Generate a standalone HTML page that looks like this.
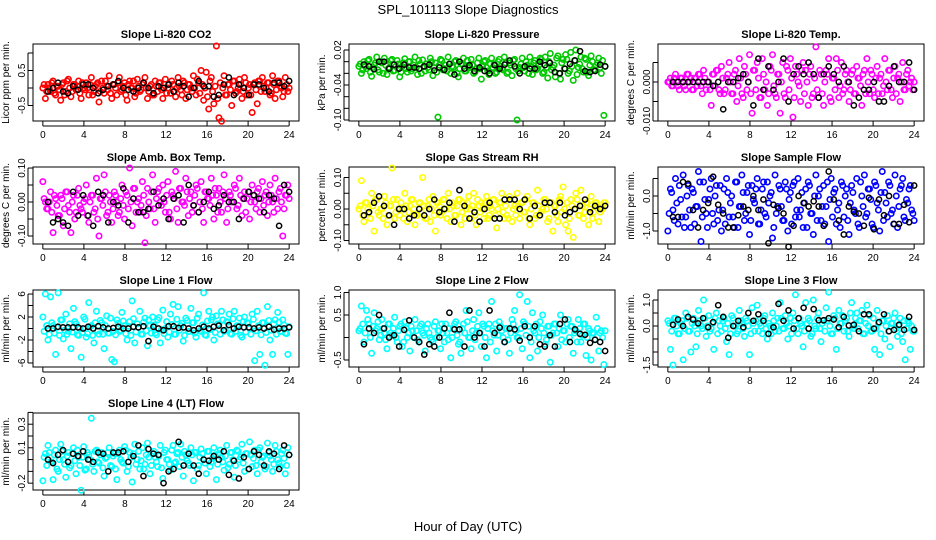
<!DOCTYPE html>
<html><head><meta charset="utf-8"><style>
html,body{margin:0;padding:0;background:#fff}
svg{display:block;font-family:"Liberation Sans",Arial,sans-serif}
</style></head><body>
<svg id="chart" width="936" height="540" viewBox="0 0 936 540">
<text x="468" y="14" text-anchor="middle" font-size="13">SPL_101113  Slope Diagnostics</text>
<text x="468" y="531" text-anchor="middle" font-size="13">Hour of Day (UTC)</text>
</svg>
<script>
const xTicks=[0,4,8,12,16,20,24];
const co2=[0.0,-0.3,0.1,-0.1,0.2,-0.2,0.05,-0.35,0.15,-0.1,0.25,-0.25,0.1,-0.05,0.2,-0.3,0.0,0.15,-0.2,0.3,-0.1,0.1,-0.4,0.2,-0.15,0.05,0.35,-0.3,0.1,-0.2,0.3,-0.05,0.15,-0.35,0.2,0.0,-0.25,0.25,-0.1,0.1,0.3,-0.3,0.05,-0.2,0.2,-0.1,0.15,-0.3,0.25,0.0,-0.15,0.1,-0.25,0.3,-0.05,0.2,-0.3,0.1,0.0,0.35,-0.2,0.15,0.5,-0.35,0.45,-0.6,0.3,-0.45,1.2,-0.85,-0.95,0.35,-0.2,0.1,-0.5,0.2,-0.1,0.25,-0.3,0.3,-0.2,0.1,-0.7,0.15,-0.45,0.2,0.3,-0.1,0.15,-0.2,0.35,-0.3,0.2,0.05,-0.25,0.3,-0.1];
const co2Core=[0.1,-0.1,0.0,0.15,-0.15,0.05,-0.05,0.1,-0.2,0.2,0.0,-0.1,0.1,0.05,-0.15,0.15,-0.05,0.0,0.1,-0.2,0.05,0.15,-0.1,0.0,0.2,-0.05,-0.15,0.1,0.0,0.15,-0.1,0.05,-0.2,0.1,0.0,0.2,-0.15,0.05,-0.05,0.15,0.0,-0.1,0.1,-0.2,0.05,0.15,-0.05,0.0,-0.15,0.1,0.2,-0.1,0.0,0.05,-0.2,0.15,-0.05,0.1,-0.1,0.0,0.25,-0.15,0.1,0.0,-0.25,0.2,-0.1,0.05,-0.3,0.15,0.0,-0.2,0.1,-0.05,0.2,-0.15,0.0,0.1,-0.1,0.15,0.0,-0.2,0.1,-0.05,0.2,-0.1,0.05,0.0,0.15,-0.15,0.1,-0.05,0.2,0.0,-0.1,0.1,0.0];
const co2Blk=[-0.1,0.0,0.15,-0.1,-0.15,0.05,-0.05,0.1,0.1,0.0,-0.15,-0.05,0.05,0.1,0.2,0.0,-0.05,-0.1,0.0,0.15,0.0,-0.15,0.05,0.0,0.1,-0.1,0.15,0.05,-0.25,0.0,0.2,0.05,0.05,-0.25,-0.2,0.1,0.3,-0.2,0.1,0.0,-0.2,0.1,0.1,0.0,-0.1,0.15,0.15,0.05,0.2];
const pres=[-0.008,-0.02,0.0,-0.012,0.004,-0.025,-0.006,0.008,-0.018,-0.002,0.006,-0.022,-0.01,0.004,-0.015,0.002,-0.026,-0.008,0.005,-0.018,0.0,-0.012,0.008,-0.022,-0.004,0.003,-0.016,-0.01,0.006,-0.024,-0.002,-0.095,0.004,-0.014,-0.006,0.008,-0.02,-0.01,0.002,-0.026,-0.004,0.006,-0.016,-0.008,0.004,-0.02,-0.012,0.006,-0.03,0.0,-0.01,-0.022,0.006,-0.004,-0.018,0.004,-0.012,0.008,-0.02,-0.002,-0.024,0.004,-0.1,-0.01,0.006,-0.016,-0.006,0.008,-0.022,0.002,-0.012,0.006,-0.02,0.008,-0.028,0.014,-0.01,-0.026,0.01,-0.03,0.004,0.012,-0.02,0.016,-0.032,0.02,-0.01,0.008,-0.018,0.004,-0.024,0.01,-0.014,-0.006,0.006,-0.02,-0.092];
const presCore=[-0.004,-0.014,-0.008,0.002,-0.018,-0.01,-0.002,-0.014,0.0,-0.02,-0.006,-0.012,0.002,-0.016,-0.008,-0.004,-0.018,-0.002,-0.012,0.0,-0.016,-0.006,-0.01,0.002,-0.02,-0.008,-0.004,-0.014,0.0,-0.01,-0.018,-0.006,0.002,-0.012,-0.016,-0.004,-0.008,0.0,-0.02,-0.012,-0.004,-0.016,0.002,-0.01,-0.006,-0.018,-0.002,-0.012,-0.008,0.002,-0.016,-0.004,-0.01,-0.02,0.0,-0.008,-0.014,-0.002,-0.018,-0.006,0.002,-0.012,-0.016,-0.004,-0.01,0.0,-0.02,-0.008,-0.002,-0.014,-0.006,0.004,-0.018,-0.01,0.0,-0.014,-0.006,0.006,-0.02,-0.002,-0.012,0.004,-0.016,-0.008,0.002,-0.022,-0.004,-0.012,0.006,-0.018,-0.006,0.0,-0.014,-0.002,-0.01,0.002,-0.008];
const presBlk=[-0.005,-0.008,-0.013,0.0,0.0,-0.012,-0.005,-0.012,-0.005,-0.01,-0.01,-0.012,-0.008,-0.005,-0.015,-0.01,-0.014,-0.004,-0.022,0.0,-0.012,-0.006,-0.016,-0.01,-0.016,-0.02,-0.006,-0.012,-0.005,0.002,-0.008,-0.02,-0.008,-0.012,-0.012,0.0,-0.006,-0.002,-0.018,-0.02,-0.012,-0.004,0.002,0.018,-0.016,-0.018,-0.016,-0.005,-0.008];
const ltemp=[0.0,0.001,-0.001,0.002,-0.001,0.001,0.0,-0.002,0.002,0.001,-0.002,0.001,0.002,-0.001,0.003,-0.002,0.0,-0.006,0.002,0.003,-0.002,0.004,-0.003,0.001,0.005,-0.003,0.002,-0.005,0.006,-0.003,0.004,-0.002,0.007,-0.008,0.003,0.005,-0.004,0.006,-0.002,-0.006,0.004,0.007,-0.003,0.002,-0.008,0.005,-0.004,0.003,0.006,-0.009,0.004,0.0,-0.005,0.005,0.003,-0.006,0.004,-0.003,0.009,-0.004,0.002,-0.006,0.003,0.006,-0.005,0.001,0.006,-0.004,0.005,-0.002,0.003,-0.005,0.002,-0.003,0.004,0.001,-0.006,0.003,0.006,-0.003,0.002,-0.004,0.004,0.001,-0.003,0.006,-0.002,0.003,-0.004,0.004,0.001,-0.005,0.005,-0.002,0.003,0.0,-0.002];
const ltempCore=[0.0,-0.001,0.001,0.0,-0.002,0.001,-0.001,0.002,0.0,-0.002,0.001,-0.001,0.002,-0.003,0.001,0.0,-0.002,0.002,-0.001,0.003,-0.003,0.001,-0.002,0.002,0.0,-0.003,0.003,-0.001,0.001,-0.004,0.002,0.0,-0.003,0.003,-0.002,0.001,-0.004,0.002,0.0,-0.003,0.003,-0.001,-0.004,0.002,0.0,-0.003,0.004,-0.002,0.001,-0.004,0.002,-0.001,0.003,-0.003,0.0,0.002,-0.004,0.001,-0.002,0.003,-0.003,0.0,0.002,-0.004,0.001,-0.002,0.003,-0.001,-0.003,0.002,0.0,-0.002,0.003,-0.003,0.001,-0.001,0.002,-0.003,0.0,0.003,-0.002,0.001,-0.003,0.002,-0.001,0.0,0.003,-0.002,0.001,-0.003,0.002,0.0,-0.002,0.002,-0.001,0.001,0.0];
const ltempBlk=[0.0,0.0,0.0,0.0,0.0,0.0,0.0,0.0,-0.001,0.0,-0.007,0.0,0.0,0.001,0.002,0.0,-0.006,0.006,-0.002,0.004,-0.002,0.0,0.006,-0.005,0.002,0.004,0.002,0.005,0.002,-0.004,0.002,0.004,0.002,0.0,0.004,0.0,-0.006,-0.004,-0.002,-0.002,0.0,-0.005,-0.005,-0.001,0.004,0.0,0.0,0.005,-0.002];
const abt=[0.06,0.0,-0.02,0.03,-0.09,0.01,-0.04,0.02,-0.07,0.03,-0.01,-0.09,0.02,-0.03,0.04,-0.02,0.0,0.05,-0.06,0.02,-0.03,0.07,-0.1,0.01,0.08,-0.04,0.02,-0.06,0.03,0.0,-0.03,0.05,-0.05,0.02,0.1,-0.07,0.04,0.0,-0.03,0.06,-0.12,0.04,-0.02,0.08,-0.06,0.03,0.0,0.05,-0.03,0.06,-0.05,0.02,0.09,-0.06,0.04,0.0,0.07,-0.04,0.03,-0.01,0.05,-0.03,0.06,-0.06,0.03,0.01,0.07,-0.05,0.02,0.04,-0.03,0.08,-0.06,0.03,0.0,0.05,-0.02,0.07,-0.04,0.03,0.01,-0.05,0.05,0.0,0.03,-0.03,0.06,0.02,-0.04,0.05,0.0,0.07,-0.02,0.04,-0.1,0.02,0.05];
const abtCore=[0.01,-0.02,0.0,-0.03,0.02,-0.01,-0.04,0.01,-0.02,0.03,-0.03,0.0,-0.05,0.02,-0.01,-0.03,0.01,-0.04,0.0,0.02,-0.02,-0.05,0.01,-0.01,0.03,-0.03,0.0,-0.02,0.02,-0.04,0.01,-0.01,0.03,-0.02,0.0,0.04,-0.03,0.01,-0.01,0.02,-0.04,0.0,0.03,-0.02,0.01,0.04,-0.01,0.0,0.02,-0.03,0.03,0.01,-0.02,0.04,0.0,-0.01,0.03,0.01,-0.03,0.02,0.04,0.0,-0.02,0.03,0.01,-0.01,0.02,0.04,-0.03,0.0,0.03,0.01,-0.02,0.02,0.0,0.04,-0.01,0.02,0.01,-0.03,0.03,0.0,0.02,-0.02,0.04,0.01,-0.01,0.03,0.0,0.02,-0.03,0.01,0.03,0.0,-0.02,0.02,0.01];
const abtBlk=[0.0,-0.06,-0.05,-0.06,-0.07,0.03,-0.04,0.02,-0.04,-0.07,0.03,0.02,-0.06,0.0,-0.01,0.04,-0.06,0.01,-0.03,-0.03,-0.02,0.03,-0.01,0.01,-0.05,0.01,0.02,-0.06,0.05,-0.01,-0.03,0.0,0.03,-0.02,-0.01,0.02,0.0,0.0,-0.05,0.01,0.03,0.02,0.01,-0.03,0.02,0.01,-0.07,0.05,0.03];
const rh=[0.0,0.09,-0.04,0.02,-0.01,0.05,-0.07,0.03,-0.02,0.0,0.04,-0.05,0.01,0.13,-0.03,0.03,-0.02,0.0,0.05,-0.04,0.01,0.03,-0.05,-0.02,0.02,0.1,-0.03,0.01,-0.04,0.04,-0.07,0.02,-0.02,0.03,0.0,0.05,-0.04,0.01,-0.02,0.03,-0.05,0.02,0.0,0.04,-0.03,0.05,-0.05,0.01,0.02,-0.03,0.04,-0.02,0.0,0.03,-0.06,0.02,0.05,-0.03,-0.02,0.04,-0.04,0.01,0.05,-0.03,0.02,-0.01,0.04,-0.05,0.02,-0.03,0.06,-0.02,0.0,0.03,-0.04,0.02,-0.07,0.01,-0.04,0.04,0.07,-0.05,-0.07,0.03,-0.09,0.05,-0.02,0.06,-0.03,0.02,-0.05,0.04,-0.01,0.02,-0.04,0.0,0.02];
const rhCore=[0.01,-0.02,0.02,0.0,-0.03,0.01,0.03,-0.01,0.0,-0.03,0.02,-0.02,0.01,0.03,-0.01,0.0,0.02,-0.03,0.01,-0.01,0.03,0.0,-0.02,0.02,-0.01,0.01,-0.03,0.03,0.0,-0.02,0.02,0.01,-0.01,0.03,-0.03,0.0,0.02,-0.02,0.01,0.03,-0.01,-0.03,0.02,0.0,0.01,-0.02,0.03,-0.01,0.0,0.02,-0.03,0.01,0.03,-0.02,0.0,0.02,-0.01,0.01,-0.03,0.03,0.0,-0.02,0.01,0.02,-0.01,0.03,-0.03,0.0,0.02,-0.02,0.01,-0.01,0.03,0.0,-0.03,0.02,0.01,-0.02,0.03,-0.01,0.0,0.02,-0.03,0.01,0.0,0.03,-0.02,0.01,-0.01,0.02,0.0,-0.03,0.02,0.01,-0.01,0.0,0.02];
const rhBlk=[-0.02,-0.01,0.02,0.04,0.01,-0.02,-0.05,0.0,0.0,-0.03,-0.02,0.0,-0.02,0.0,0.03,-0.01,0.0,0.02,-0.04,0.06,0.01,-0.03,-0.01,-0.04,0.0,0.02,-0.03,-0.03,0.03,0.03,0.03,0.0,0.03,-0.03,0.01,-0.02,0.02,0.02,-0.01,0.02,-0.02,-0.01,0.0,0.01,0.03,-0.01,0.01,0.0,0.01];
const samp=[-1.0,0.2,-0.4,0.5,-0.8,-0.1,0.6,-0.6,0.3,-0.9,0.1,-0.3,0.7,-1.3,0.4,-0.5,-0.1,0.5,-0.8,0.3,-0.4,-1.0,0.2,0.5,-0.6,0.0,-0.9,0.4,-0.3,0.6,-0.7,0.1,-1.1,0.3,-0.2,0.5,-0.8,0.2,-0.5,0.4,0.0,-1.2,0.6,-0.3,0.2,-0.7,0.4,-1.0,0.1,0.3,-0.6,0.5,-0.4,-0.9,0.2,0.4,-0.5,-1.1,0.6,0.0,-0.7,0.3,-0.3,-1.3,0.5,0.1,-0.8,-0.2,0.4,-0.6,0.2,-1.1,0.3,-0.4,0.5,-0.9,0.0,0.6,-0.5,0.2,-0.8,0.4,-0.2,-1.0,0.7,0.1,-0.6,0.3,-0.4,0.6,-0.9,0.2,0.5,-0.7,-0.2,0.3,-0.5];
const sampCore=[-0.5,0.1,-0.7,-0.2,0.3,-0.6,-0.9,0.0,-0.4,0.2,-0.8,-0.3,0.4,-0.6,-0.1,-0.9,0.2,-0.5,0.0,-0.7,0.3,-0.4,-0.8,0.1,-0.2,-0.6,0.4,-0.9,-0.3,0.1,-0.5,0.3,-0.7,-0.1,0.2,-0.8,-0.4,0.4,-0.6,-0.2,0.1,-0.9,-0.5,0.3,-0.3,-0.7,0.2,-0.1,-0.8,0.4,-0.4,-0.6,0.1,-0.2,-0.9,0.3,-0.5,0.0,-0.7,0.2,-0.3,-0.8,0.4,-0.1,-0.6,0.2,-0.4,-0.9,0.3,0.0,-0.7,-0.2,0.1,-0.5,-0.8,0.4,-0.3,-0.6,0.2,-0.1,-0.9,0.3,-0.4,0.1,-0.7,-0.2,0.4,-0.5,-0.8,0.0,-0.3,0.3,-0.6,-0.1,0.2,-0.4,-0.7];
const sampBlk=[-0.6,-0.6,0.4,0.35,-0.4,-0.9,-0.4,-0.2,0.55,-0.25,-0.5,-0.9,-0.9,-0.55,-0.3,-0.4,0.0,-0.4,-0.1,-1.35,-0.25,-0.35,-0.5,-1.45,-0.85,0.0,-0.2,-0.3,-0.15,-0.3,-0.85,0.7,-0.1,-0.7,-1.1,-0.3,-0.45,-0.5,-0.85,-0.05,-0.95,-0.1,-0.55,0.0,-0.8,-0.8,-0.25,-0.75,0.3];
const line1=[2.0,6.0,-2.0,5.5,0.5,-4.5,6.2,1.5,-1.8,2.5,-0.5,-3.5,3.5,0.8,-1.2,-5.0,2.0,-1.5,4.5,0.5,-2.5,3.0,-1.0,1.0,-3.5,2.2,-0.8,-5.4,-5.8,1.5,-0.5,2.8,0.5,-2.0,1.2,4.8,-2.5,0.8,3.0,-1.0,1.8,-3.0,0.5,2.0,-0.8,1.5,-2.5,3.2,0.0,-1.5,2.5,4.2,-1.0,3.8,0.5,-2.2,1.8,-0.5,3.5,1.0,-1.5,2.5,-0.5,6.2,-1.2,3.0,1.5,-2.0,2.2,0.8,3.0,-0.5,1.2,2.5,-1.0,3.0,0.5,1.8,-1.5,2.0,1.0,0.0,2.5,-5.6,3.0,-4.5,1.0,-6.4,3.8,-2.0,-4.5,1.5,2.8,-0.5,1.5,-0.8,-4.5];
const line1Core=[-0.5,0.5,-1.0,1.0,-0.8,0.2,-1.2,1.5,-0.3,-1.0,0.8,-0.6,1.2,-1.1,0.0,-0.7,1.6,-0.9,0.3,-1.2,1.0,-0.4,1.4,-1.0,0.5,-0.8,1.8,-0.5,-1.1,0.9,-0.3,1.3,-0.9,0.4,-1.2,1.7,-0.6,0.2,-1.0,1.1,-0.4,1.5,-0.8,0.6,-1.1,1.9,-0.2,-0.9,1.2,-0.6,0.7,-1.0,1.6,-0.3,0.9,-1.2,1.4,-0.5,1.0,-0.8,1.8,-0.4,0.6,-1.1,1.3,-0.2,2.0,-0.7,0.8,-1.0,1.5,-0.3,1.1,-0.9,1.7,-0.5,0.4,-1.2,1.2,-0.6,0.9,-1.0,1.6,-0.4,0.5,-1.1,1.0,-0.7,1.4,-0.3,0.8,-1.0,1.1,-0.5,0.6,-0.9,0.3];
const line1Blk=[0.0,0.0,0.3,0.2,0.2,0.2,0.2,0.0,0.3,0.0,0.4,0.2,0.0,0.1,0.3,0.0,0.0,0.3,0.2,0.4,-2.2,0.3,0.0,-0.3,0.4,0.4,0.1,0.2,0.0,-0.3,0.0,0.3,0.0,0.3,0.5,-0.3,0.6,0.0,0.3,0.2,0.2,0.0,0.2,0.0,0.3,-0.2,0.0,0.0,0.2];
const line2=[0.15,0.7,-0.1,0.6,0.3,-0.35,0.55,0.2,-0.05,0.4,0.1,-0.25,0.3,0.05,0.45,-0.1,0.25,-0.2,0.35,0.0,-0.3,0.15,0.4,-0.05,0.25,0.1,-0.3,0.3,0.0,-0.1,0.35,0.15,-0.25,0.1,0.3,-0.05,-0.45,0.2,0.35,-0.15,-0.35,0.3,0.6,0.0,-0.25,0.4,0.1,0.55,-0.2,0.25,-0.45,0.3,0.8,0.05,-0.3,0.35,0.15,-0.1,0.2,-0.35,0.4,0.6,0.0,0.95,-0.25,0.3,0.8,-0.45,0.55,0.1,-0.3,0.35,0.5,-0.15,0.25,-0.55,0.1,0.3,-0.2,0.5,0.15,-0.1,0.4,0.25,-0.35,0.15,0.4,-0.1,0.3,-0.4,0.2,-0.5,0.1,0.45,-0.3,0.15,-0.6];
const line2Core=[0.2,0.3,0.1,0.4,0.0,0.25,0.15,0.35,0.05,0.2,-0.05,0.3,0.1,0.2,0.0,0.15,0.3,-0.1,0.2,0.1,0.25,0.0,0.15,-0.1,0.3,0.05,0.2,0.1,-0.05,0.25,0.0,0.15,0.3,-0.1,0.1,0.2,0.0,0.3,0.05,-0.1,0.2,0.1,0.35,0.0,0.15,-0.05,0.25,0.1,0.3,0.0,0.2,-0.1,0.15,0.3,0.05,0.25,0.0,0.2,-0.05,0.1,0.3,0.15,0.0,0.2,0.35,0.05,0.25,-0.1,0.15,0.3,0.0,0.2,0.1,-0.05,0.25,0.05,0.3,0.1,0.2,-0.05,0.15,0.3,0.0,0.25,0.1,-0.1,0.2,0.05,0.3,0.0,0.15,0.1,-0.05,0.2,0.1,0.0,0.15];
const line2Blk=[-0.15,0.2,0.1,0.5,0.2,0.0,0.05,-0.2,0.17,0.38,0.0,-0.1,-0.38,-0.15,-0.2,0.0,0.2,0.55,0.18,0.18,-0.2,0.6,0.0,0.1,-0.2,0.6,0.1,0.22,-0.1,0.2,0.18,-0.07,0.25,0.0,0.25,-0.15,-0.2,0.05,-0.2,0.3,0.4,-0.1,0.18,0.08,0.06,-0.12,-0.05,-0.1,-0.3];
const line3=[0.2,-0.9,-1.5,0.3,-0.3,0.1,-1.3,0.5,-0.2,-1.0,0.3,-0.8,0.6,0.0,1.0,-0.4,0.4,-0.1,-0.9,0.5,0.2,-0.2,0.3,-0.6,-1.1,0.4,0.0,-0.3,0.6,0.1,-0.4,0.2,-1.1,0.7,-0.2,0.8,0.1,-0.3,0.4,-0.5,0.0,0.5,-0.2,0.3,0.9,-0.1,0.4,-0.5,0.3,0.5,1.2,-0.3,0.1,-0.8,0.9,0.3,-0.4,1.0,-0.1,0.5,-0.6,0.2,0.7,1.3,-0.3,0.4,-0.9,0.6,0.1,-0.2,0.3,-0.4,0.9,-0.1,0.5,0.2,0.6,-0.3,0.8,0.4,-0.2,-0.9,0.6,-1.1,0.2,-0.5,0.4,-0.8,0.1,0.5,-0.4,0.3,-0.6,-1.3,0.2,-0.9,-0.2];
const line3Core=[0.1,-0.2,0.3,0.0,-0.3,0.2,-0.1,0.3,-0.2,0.1,0.0,-0.3,0.2,-0.1,0.3,0.0,-0.2,0.1,0.3,-0.3,0.0,0.2,-0.1,0.1,-0.3,0.3,0.0,-0.2,0.2,-0.1,0.3,0.0,-0.3,0.1,0.2,-0.2,0.0,0.3,-0.1,0.1,-0.3,0.2,0.0,-0.2,0.3,-0.1,0.1,0.0,-0.3,0.2,-0.1,0.3,0.0,-0.2,0.1,0.2,-0.3,0.0,0.3,-0.1,0.1,-0.2,0.2,0.0,-0.3,0.3,-0.1,0.1,0.4,0.2,-0.2,0.5,0.0,0.3,-0.1,0.2,-0.3,0.1,0.0,-0.2,0.3,-0.1,0.1,-0.3,0.2,0.0,-0.2,0.1,0.3,-0.1,0.0,-0.3,0.2,-0.1,0.1,0.0,-0.2];
const line3Blk=[0.05,0.25,0.0,0.35,0.25,0.1,0.3,-0.05,0.15,0.8,0.35,-0.45,0.0,0.2,-0.05,0.5,0.2,0.45,0.2,-0.3,-0.05,0.85,0.2,0.6,-0.1,0.3,0.7,-0.1,0.65,0.22,0.22,0.3,0.25,-0.05,0.35,0.02,0.05,-0.2,0.45,0.45,-0.1,0.15,0.45,-0.2,-0.15,0.05,-0.15,0.35,-0.15];
const line4=[-0.18,0.05,0.12,-0.02,-0.17,0.08,-0.1,0.13,0.0,-0.15,0.06,-0.05,0.1,-0.12,0.02,-0.26,0.11,-0.08,0.04,0.35,-0.1,0.08,-0.03,0.06,-0.14,0.02,0.1,-0.06,0.05,-0.17,0.08,-0.02,0.11,-0.1,0.06,-0.19,0.13,0.0,-0.08,0.1,-0.04,0.14,-0.12,0.05,0.02,-0.06,0.12,-0.16,0.08,0.0,-0.09,0.12,-0.02,0.06,0.13,-0.14,0.04,-0.03,0.1,-0.18,0.06,-0.05,0.09,0.0,-0.12,0.07,-0.02,0.1,-0.17,0.05,0.02,-0.09,0.12,-0.04,0.06,-0.15,0.08,0.0,0.13,-0.1,0.05,0.15,-0.06,0.08,-0.12,0.1,0.02,-0.08,0.14,0.03,-0.1,0.12,0.0,-0.06,0.08,-0.12,0.1];
const line4Core=[0.02,-0.05,0.06,-0.02,0.04,-0.08,0.0,0.07,-0.04,0.03,-0.07,0.05,-0.01,0.08,-0.05,0.02,-0.09,0.06,0.0,-0.04,0.07,-0.02,0.04,-0.07,0.01,0.06,-0.05,0.03,-0.08,0.05,0.0,-0.03,0.08,-0.06,0.02,0.05,-0.04,0.07,-0.01,-0.08,0.04,0.02,-0.05,0.07,-0.02,0.03,-0.07,0.06,0.0,-0.04,0.08,-0.03,0.05,-0.06,0.02,0.07,-0.01,-0.05,0.04,0.06,-0.08,0.02,0.05,-0.03,0.07,-0.06,0.01,0.04,-0.04,0.08,-0.02,0.03,-0.07,0.06,0.0,-0.05,0.07,0.02,-0.03,0.05,-0.08,0.04,0.01,-0.05,0.08,-0.02,0.03,-0.06,0.06,0.0,-0.04,0.07,-0.03,0.05,0.01,-0.05,0.04];
const line4Blk=[0.0,-0.03,0.04,0.08,-0.02,0.05,0.03,0.07,0.0,-0.02,0.06,0.05,-0.1,0.06,0.06,0.07,-0.02,0.03,0.12,-0.14,0.09,0.05,0.04,-0.2,-0.1,-0.08,0.15,-0.05,0.05,-0.05,-0.12,0.0,-0.01,0.03,0.0,0.07,-0.13,-0.01,-0.16,0.02,-0.08,0.07,0.04,-0.05,0.07,0.05,-0.08,0.12,0.04];

const ns="http://www.w3.org/2000/svg";
const svg=document.getElementById('chart');
const colL=[33,349,658], W=266, rowT=[44,167,290,413], H=77;
const X0=-0.96, X1=24.96;
function mk(tag,attrs,parent){const e=document.createElementNS(ns,tag);for(const k in attrs)e.setAttribute(k,attrs[k]);(parent||svg).appendChild(e);return e;}
const panels=[
 {t:"Slope Li-820 CO2",yl:"Licor ppm per min.",c:"#ff0000",d:co2,k:co2Core,b:co2Blk,y0:-0.943,y1:1.257,ti:[1,0.5,0,-0.5],tl:["","0.5","","-0.5"],col:0,row:0},
 {t:"Slope Li-820 Pressure",yl:"kPa per min.",c:"#00c800",d:pres,k:presCore,b:presBlk,y0:-0.1017,y1:0.0303,ti:[0.02,0,-0.02,-0.04,-0.06,-0.08,-0.10],tl:["0.02","","","-0.04","","","-0.10"],col:1,row:0},
 {t:"Slope Li-820 Temp.",yl:"degrees C per min.",c:"#ff00ff",d:ltemp,k:ltempCore,b:ltempBlk,y0:-0.0100,y1:0.00974,ti:[0.005,0,-0.005,-0.010],tl:["","0.000","","-0.010"],col:2,row:0},
 {t:"Slope Amb. Box Temp.",yl:"degrees C per min.",c:"#ff00ff",d:abt,k:abtCore,b:abtBlk,y0:-0.1235,y1:0.103,ti:[0.1,0.05,0,-0.05,-0.1],tl:["0.10","","0.00","","-0.10"],col:0,row:1},
 {t:"Slope Gas Stream RH",yl:"percent per min.",c:"#ffff00",d:rh,k:rhCore,b:rhBlk,y0:-0.111,y1:0.1333,ti:[0.1,0.05,0,-0.05,-0.1],tl:["0.10","","0.00","","-0.10"],col:1,row:1},
 {t:"Slope Sample Flow",yl:"ml/min per min.",c:"#0000ff",d:samp,k:sampCore,b:sampBlk,y0:-1.371,y1:0.829,ti:[0.5,0,-0.5,-1.0],tl:["","0.0","","-1.0"],col:2,row:1},
 {t:"Slope Line 1 Flow",yl:"ml/min per min.",c:"#00ffff",d:line1,k:line1Core,b:line1Blk,y0:-6.7,y1:6.7,ti:[6,4,2,0,-2,-4,-6],tl:["6","","2","","-2","","-6"],col:0,row:2},
 {t:"Slope Line 2 Flow",yl:"ml/min per min.",c:"#00ffff",d:line2,k:line2Core,b:line2Blk,y0:-0.656,y1:1.056,ti:[1,0.5,0,-0.5],tl:["1.0","0.5","","-0.5"],col:1,row:2},
 {t:"Slope Line 3 Flow",yl:"ml/min per min.",c:"#00ffff",d:line3,k:line3Core,b:line3Blk,y0:-1.577,y1:1.385,ti:[1,0.5,0,-0.5,-1,-1.5],tl:["1.0","","0.0","","","-1.5"],col:2,row:2},
 {t:"Slope Line 4 (LT) Flow",yl:"ml/min per min.",c:"#00ffff",d:line4,k:line4Core,b:line4Blk,y0:-0.258,y1:0.395,ti:[0.4,0.3,0.2,0.1,0,-0.1,-0.2],tl:["","0.3","","0.1","","","-0.2"],col:0,row:3}
];
panels.forEach((p,pi)=>{
 const L=colL[p.col], T=rowT[p.row];
 const g=mk('g',{});
 
 
 const xs=v=>L+(v-X0)/(X1-X0)*W;
 const ys=v=>T+(p.y1-v)/(p.y1-p.y0)*H;
 const box=mk('rect',{x:L,y:T,width:W,height:H,fill:'none',stroke:'#000','stroke-width':1},g);
 
 
 const tt=mk('text',{x:L+W/2,y:T-6,'text-anchor':'middle','font-size':11,'font-weight':'bold'},g);
 tt.textContent=p.t;
 
 
 const yl=mk('text',{transform:`translate(${L-24},${T+H/2}) rotate(-90)`,'text-anchor':'middle','font-size':10},g);
 yl.textContent=p.yl;
 
 
 xTicks.forEach(v=>{
  const x=xs(v);
  mk('line',{x1:x,x2:x,y1:T+H,y2:T+H+5,stroke:'#000'},g);
  const lb=mk('text',{x:x,y:T+H+17,'text-anchor':'middle','font-size':10},g);
  lb.textContent=v;
  
  
 });
 mk('line',{x1:xs(0),x2:xs(24),y1:T+H+5,y2:T+H+5,stroke:'#000'},g);
 p.ti.forEach((v,i)=>{
  const y=ys(v);
  mk('line',{x1:L-5,x2:L,y1:y,y2:y,stroke:'#000'},g);
  if(p.tl[i]){
   const lb=mk('text',{transform:`translate(${L-8},${y}) rotate(-90)`,'text-anchor':'middle','font-size':10},g);
   lb.textContent=p.tl[i];
   
   
  }
 });
 mk('line',{x1:L-5,x2:L-5,y1:ys(p.ti[0]),y2:ys(p.ti[p.ti.length-1]),stroke:'#000'},g);
 [p.d,p.k].forEach((arr,ai)=>{
  const n=arr.length;
  arr.forEach((v,i)=>{
   const c=mk('circle',{cx:xs((i+ai*0.5)*24/(n-0.5)),cy:ys(v),r:2.7,fill:'none',stroke:p.c,'stroke-width':1.6},g);
   
   
  });
 });
 const m=p.b.length;
 p.b.forEach((v,i)=>{
  const c=mk('circle',{cx:xs(0.5+i*23.5/(m-1)),cy:ys(v),r:2.6,fill:'none',stroke:'#000','stroke-width':1.5},g);
  
  
 });
});
</script>
</body></html>
